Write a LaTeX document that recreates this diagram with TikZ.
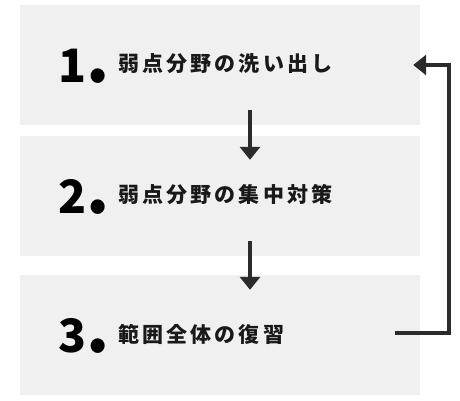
\documentclass[tikz,border=0pt]{standalone}
\usepackage{fontspec}
\usetikzlibrary{arrows.meta}
\newfontfamily\jpfont{Noto Sans CJK JP}[LetterSpace=15]
\newfontfamily\numfont{Noto Sans CJK JP}
\definecolor{stepgray}{HTML}{F0F0F0}
\definecolor{flowink}{HTML}{2B2B2B}
\tikzset{
  stepbox/.style={fill=stepgray,draw=none,minimum width=400pt,minimum height=120pt,inner sep=0pt},
  stepnum/.style={anchor=base west,inner sep=0pt,text=black,font=\numfont\bfseries\fontsize{46}{46}\selectfont},
  steplabel/.style={anchor=west,inner sep=0pt,text=black!90,font=\jpfont\bfseries\fontsize{21}{21}\selectfont},
  flowarrow/.style={-{Triangle[width=20pt,length=13pt]},line width=4pt,draw=flowink}
}
\newcommand{\bigdot}{{\fontsize{66}{66}\selectfont.}}
\begin{document}
\begin{tikzpicture}[x=1pt,y=-1pt]
  \useasboundingbox (0,0) rectangle (460,400);
  \node[stepbox] (box1) at (220,65) {};
  \node[stepbox] (box2) at (220,196) {};
  \node[stepbox] (box3) at (220,335) {};
  \node[stepnum] (num1) at (58,82) {1\bigdot};
  \node[stepnum] (num2) at (58,213) {2\bigdot};
  \node[stepnum] (num3) at (58,352) {3\bigdot};
  \node[steplabel] (lab1) at (118,63.5) {弱点分野の洗い出し};
  \node[steplabel] (lab2) at (118,195) {弱点分野の集中対策};
  \node[steplabel] (lab3) at (118,334) {範囲全体の復習};
  \draw[flowarrow] ([xshift=30pt,yshift=15pt]box1.south) -- ([xshift=30pt,yshift=-24pt]box2.north);
  \draw[flowarrow] ([xshift=30pt,yshift=15pt]box2.south) -- ([xshift=30pt,yshift=-15pt]box3.north);
  \draw[flowarrow] ([xshift=-25pt,yshift=2pt]box3.east) -| (449,65) -- ([xshift=-7pt]box1.east);
\end{tikzpicture}
\end{document}
